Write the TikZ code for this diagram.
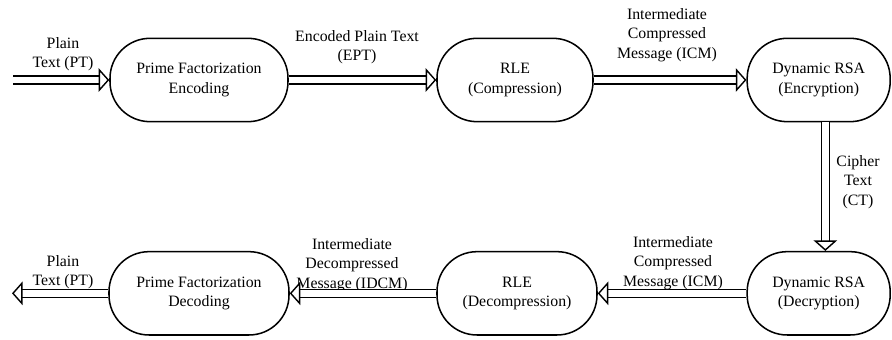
\documentclass[tikz,border=0pt]{standalone}
\usepackage{fontspec}
\setmainfont{Liberation Serif}
\usetikzlibrary{arrows.meta}

\begin{document}
\begin{tikzpicture}[
        stage/.style={draw, line width=1.3pt, rounded corners=1.2cm, minimum height=2.5cm, align=center, font=\fontsize{13.5}{16.5}\selectfont},
        flow/.style={double, double distance=5.5pt, line width=1.2pt, -{Triangle[open, fill=white, length=9pt, width=20pt, line width=1.2pt]}},
        note/.style={align=center, font=\fontsize{13.5}{16.5}\selectfont}]
        \useasboundingbox (0,0) rectangle (26.76,10.2);

        % Encryption side
        \node[stage, minimum width=5.34cm] (pfenc) at (5.97,7.8) {Prime Factorization\\Encoding};
        \node[stage, minimum width=4.68cm] (rlecomp) at (15.45,7.8) {RLE\\(Compression)};
        \node[stage, minimum width=4.29cm] (rsaenc) at (24.56,7.8) {Dynamic RSA\\(Encryption)};

        % Decryption side
        \node[stage, minimum width=4.29cm] (rsadec) at (24.56,1.4) {Dynamic RSA\\(Decryption)};
        \node[stage, minimum width=4.8cm] (rledecomp) at (15.51,1.4) {RLE\\(Decompression)};
        \node[stage, minimum width=5.4cm] (pfdec) at (5.97,1.4) {Prime Factorization\\Decoding};

        % Free ends
        \coordinate (ptin) at (0.39,7.8);
        \coordinate (ptout) at (0.36,1.4);

        % Labels
        \node[note] (lptin) at (1.89,8.58) {Plain\\Text (PT)};
        \node[note] (lept) at (10.71,8.79) {Encoded Plain Text\\(EPT)};
        \node[note] (licmtop) at (20.01,9.15) {Intermediate\\Compressed\\Message (ICM)};
        \node[note] (lct) at (25.74,4.74) {Cipher\\Text\\(CT)};
        \node[note] (licmbot) at (20.19,2.31) {Intermediate\\Compressed\\Message (ICM)};
        \node[note] (lidcm) at (10.56,2.25) {Intermediate\\Decompressed\\Message (IDCM)};
        \node[note] (lptout) at (1.89,2.03) {Plain\\Text (PT)};

        % Arrows
        \draw[flow] (ptin) -- (pfenc.west);
        \draw[flow] (pfenc) -- (rlecomp);
        \draw[flow] (rlecomp) -- (rsaenc);
        \draw[flow] ([xshift=0.2cm]rsaenc.south) -- ([xshift=0.2cm]rsadec.north);
        \draw[flow] (rsadec) -- (rledecomp);
        \draw[flow] (rledecomp) -- (pfdec);
        \draw[flow] (pfdec.west) -- (ptout);
    \end{tikzpicture}
\end{document}
